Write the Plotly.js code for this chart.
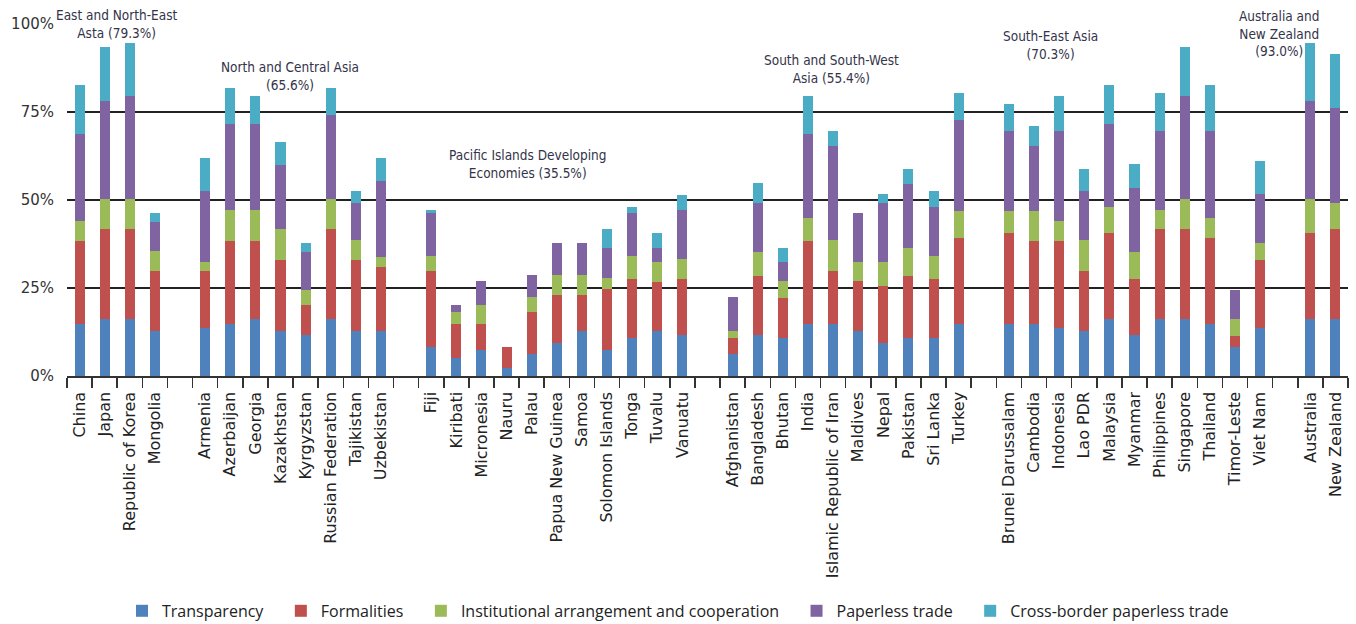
<!DOCTYPE html>
<html>
<head>
<meta charset="utf-8">
<script src="https://cdn.plot.ly/plotly-3.0.1.min.js"></script>
<style>
  html, body { margin: 0; padding: 0; background: #ffffff; }
  #chart { width: 1356px; height: 624px; }
</style>
</head>
<body>
<div id="chart"></div>
<script>
// Categories (gap slots between regional groups use invisible unique labels)
const categories = [
  "China", "Japan", "Republic of Korea", "Mongolia", "\u200b",
  "Armenia", "Azerbaijan", "Georgia", "Kazakhstan", "Kyrgyzstan", "Russian Federation", "Tajikistan", "Uzbekistan", "\u200b\u200b",
  "Fiji", "Kiribati", "Micronesia", "Nauru", "Palau", "Papua New Guinea", "Samoa", "Solomon Islands", "Tonga", "Tuvalu", "Vanuatu", "\u200b\u200b\u200b",
  "Afghanistan", "Bangladesh", "Bhutan", "India", "Islamic Republic of Iran", "Maldives", "Nepal", "Pakistan", "Sri Lanka", "Turkey", "\u200b\u200b\u200b\u200b",
  "Brunei Darussalam", "Cambodia", "Indonesia", "Lao PDR", "Malaysia", "Myanmar", "Philippines", "Singapore", "Thailand", "Timor-Leste", "Viet Nam", "\u200b\u200b\u200b\u200b\u200b",
  "Australia", "New Zealand"
];

const transparency = [
  14.8, 16.1, 16.1, 12.9, null,
  13.7, 14.8, 16.1, 12.9, 11.6, 16.1, 12.9, 12.9, null,
  8.3, 5.2, 7.4, 2.2, 6.2, 9.3, 12.9, 7.4, 10.7, 12.9, 11.6, null,
  6.2, 11.6, 10.7, 14.8, 14.8, 12.9, 9.3, 10.7, 10.7, 14.8, null,
  14.8, 14.8, 13.7, 12.8, 16.1, 11.6, 16.1, 16.1, 14.8, 8.3, 13.7, null,
  16.1, 16.1
];
const formalities = [
  23.6, 25.6, 25.6, 17.0, null,
  16.2, 23.6, 22.3, 20.1, 8.6, 25.6, 20.1, 18.0, null,
  21.6, 9.6, 7.4, 6.1, 12.0, 13.8, 10.2, 17.2, 16.9, 13.9, 16.0, null,
  4.5, 16.9, 11.6, 23.6, 15.1, 14.1, 16.3, 17.8, 16.9, 24.5, null,
  25.9, 23.6, 24.7, 17.1, 24.6, 16.0, 25.6, 25.6, 24.5, 3.1, 19.3, null,
  24.6, 25.6
];
const institutional = [
  5.7, 8.5, 8.5, 5.5, null,
  2.4, 8.7, 8.7, 8.7, 4.3, 8.5, 5.6, 3.0, null,
  4.1, 3.4, 5.4, 0, 4.3, 5.5, 5.5, 3.2, 6.4, 5.5, 5.6, null,
  2.1, 6.8, 4.7, 6.4, 8.7, 5.3, 6.7, 7.8, 6.4, 7.7, null,
  6.3, 8.6, 5.7, 8.7, 7.3, 7.7, 5.4, 8.5, 5.5, 4.7, 4.7, null,
  9.5, 7.5
];
const paperless = [
  24.6, 27.9, 29.3, 8.4, null,
  20.3, 24.6, 24.6, 18.3, 10.8, 23.9, 10.6, 21.5, null,
  12.2, 2.0, 6.8, 0, 6.2, 9.1, 9.1, 8.5, 12.2, 4.0, 13.9, null,
  9.7, 13.9, 5.3, 23.9, 26.7, 13.9, 16.9, 18.3, 14.1, 25.7, null,
  22.6, 18.4, 25.5, 13.9, 23.7, 18.2, 22.5, 29.3, 24.8, 8.4, 13.9, null,
  27.9, 27.0
];
const crossBorder = [
  13.9, 15.3, 15.0, 2.4, null,
  9.4, 10.1, 7.8, 6.5, 2.4, 7.7, 3.3, 6.4, null,
  1.0, 0, 0, 0, 0, 0, 0, 5.5, 1.9, 4.4, 4.4, null,
  0, 5.7, 4.0, 10.8, 4.3, 0, 2.4, 4.3, 4.4, 7.8, null,
  7.6, 5.6, 9.9, 6.4, 10.9, 6.7, 10.9, 13.9, 13.0, 0, 9.5, null,
  16.4, 15.2
];

const seriesNames = ["Transparency", "Formalities", "Institutional arrangement and cooperation", "Paperless trade", "Cross-border paperless trade"];
const seriesColors = ["#4F81BD", "#C0504D", "#9BBB59", "#8064A2", "#4BACC6"];
const seriesValues = [transparency, formalities, institutional, paperless, crossBorder];

const groupLabels = [
  "East and North-East<br>Asta (79.3%)",
  "North and Central Asia<br>(65.6%)",
  "Pacific Islands Developing<br>Economies (35.5%)",
  "South and South-West<br>Asia (55.4%)",
  "South-East Asia<br>(70.3%)",
  "Australia and<br>New Zealand<br>(93.0%)"
];
const groupLabelPos = [
  [0.0393, 1.000], [0.1737, 0.851], [0.360, 0.602], [0.5966, 0.871], [0.7676, 0.940], [0.9464, 0.972]
];

const yTickVals = [0, 25, 50, 75, 100];
const yTickText = ["0%", "25%", "50%", "75%", "100%"];

// legend spacing pad (non-breaking spaces) between entries
const legendPad = "\u00a0\u00a0\u00a0";

const traces = seriesValues.map((vals, i) => ({
  type: "bar",
  name: seriesNames[i] + (i < seriesNames.length - 1 ? legendPad : ""),
  x: categories,
  y: vals,
  marker: { color: seriesColors[i], line: { width: 0 } },
  hoverinfo: "x+y+name"
}));

const annotations = groupLabels.map((t, i) => ({
  text: t,
  xref: "paper", yref: "paper",
  x: groupLabelPos[i][0], y: groupLabelPos[i][1],
  xanchor: "center", yanchor: "middle",
  showarrow: false,
  align: "center",
  font: { family: "DejaVu Sans Condensed, Liberation Sans Narrow, sans-serif", size: 13.5, color: "#33334a" }
}));

const layout = {
  width: 1356, height: 624,
  margin: { l: 67, r: 8, t: 24, b: 248 },
  paper_bgcolor: "#ffffff",
  plot_bgcolor: "#ffffff",
  barmode: "stack",
  bargap: 0.6,
  showlegend: true,
  legend: {
    orientation: "h",
    xref: "container", yref: "container",
    x: 0.5, xanchor: "center",
    y: 0.021, yanchor: "middle",
    traceorder: "normal",
    font: { family: "Open Sans, sans-serif", size: 16, color: "#222" }
  },
  xaxis: {
    type: "category",
    categoryorder: "array",
    categoryarray: categories,
    tickmode: "linear", tick0: 0, dtick: 1,
    tickson: "boundaries",
    ticks: "outside", ticklen: 10, tickwidth: 1.5, tickcolor: "#333",
    showline: true, linecolor: "#333", linewidth: 1.5,
    showgrid: false,
    tickangle: -90,
    ticklabelstandoff: 8,
    tickfont: { family: "DejaVu Sans, sans-serif", size: 16, color: "#222" },
    fixedrange: true
  },
  yaxis: {
    range: [0, 100],
    tickmode: "array",
    tickvals: yTickVals,
    ticktext: yTickText,
    showgrid: true, gridcolor: "#222", gridwidth: 1.5,
    zeroline: false,
    showline: false,
    ticks: "",
    ticklabelstandoff: 12,
    tickfont: { family: "DejaVu Sans, sans-serif", size: 15, color: "#333" },
    fixedrange: true
  },
  annotations: annotations
};

Plotly.newPlot("chart", traces, layout, { displayModeBar: false, staticPlot: true });
</script>
</body>
</html>
